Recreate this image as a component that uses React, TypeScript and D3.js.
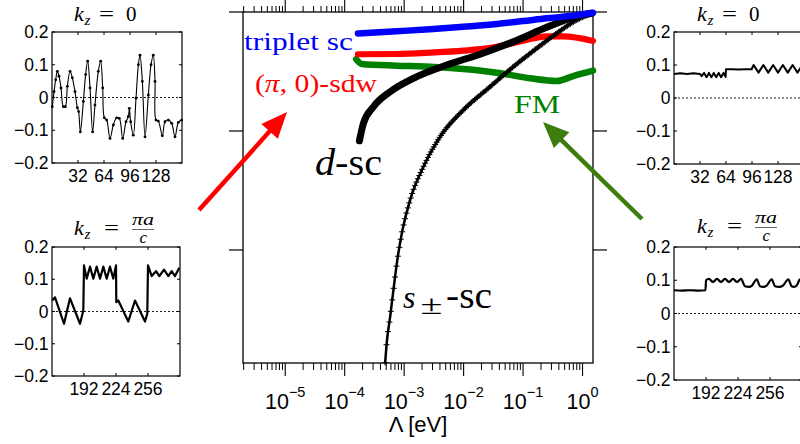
import React, { useEffect, useRef, useState } from "react";
import * as d3 from "d3";

// ---------------- main panel data ----------------
const lambdaMajorTicks = [1e-5, 1e-4, 1e-3, 1e-2, 1e-1, 1];
const lambdaTickExponents = ["−5", "−4", "−3", "−2", "−1", "0"];
const flowYTicks = [1, 2, 3];

const tripletLambda = [1.67e-4, 7.5e-4, 2.7e-3, 9.9e-3, 3.6e-2, 0.101, 0.25, 0.62, 1.5];
const tripletY = [2.82, 2.838, 2.855, 2.876, 2.899, 2.924, 2.947, 2.966, 2.994];

const sdwLambda = [1.67e-4, 7.5e-4, 2.7e-3, 9.9e-3, 3.6e-2, 0.101, 0.25, 0.475, 1.5];
const sdwY = [2.645, 2.647, 2.658, 2.675, 2.708, 2.759, 2.795, 2.795, 2.757];

const fmLambda = [1.56e-4, 1.95e-4, 7.5e-4, 2.7e-3, 9.9e-3, 3.6e-2, 0.131, 0.368, 0.7, 1.5];
const fmY = [2.603, 2.563, 2.549, 2.54, 2.521, 2.49, 2.443, 2.42, 2.462, 2.507];

const dscLambda = [1.77e-4, 2.07e-4, 3.05e-4, 5.82e-4, 1.43e-3, 5.22e-3, 1.89e-2, 6.87e-2, 0.25, 0.616, 1.43];
const dscY = [1.918, 2.065, 2.204, 2.33, 2.443, 2.555, 2.645, 2.75, 2.871, 2.947, 2.989];

const spmLambda = [4.8e-4, 5.12e-4, 5.82e-4, 6.61e-4, 7.54e-4, 9.15e-4, 1.26e-3, 2.11e-3, 4.03e-3, 9.9e-3, 2.79e-2, 6.87e-2, 0.17, 0.368, 0.8, 1.43];
const spmY = [0.053, 0.229, 0.439, 0.664, 0.888, 1.14, 1.42, 1.7, 1.952, 2.176, 2.372, 2.54, 2.695, 2.821, 2.933, 2.989];

// ---------------- inset data ----------------
const insetYTicks = [-0.2, -0.1, 0, 0.1, 0.2];
const topSiteTicks = [32, 64, 96, 128];
const bottomSiteTicks = [192, 224, 256];

const leftTopSites = [0.4, 2.5, 4.5, 6.6, 8.6, 11.1, 14, 16.4, 18.9, 22.2, 25, 28.3, 31.2, 32.8, 34.9, 38.6, 41.4, 43.9, 46.8, 50, 52.9, 57, 59.9, 62.4, 64.4, 67.3, 71.4, 75.5, 79.6, 82.9, 87, 91.1, 94, 95.2, 96.8, 100.1, 103.4, 106.3, 108.3, 111.2, 114.5, 118.6, 121.9, 124.7, 126.8, 128, 130.9, 135.8, 139.1, 143.2, 147.3, 151.4, 155.5, 159.6];
const leftTopValues = [-0.028, 0.018, 0.054, 0.08, 0.065, 0.029, -0.028, -0.028, 0.034, 0.08, 0.06, 0.018, -0.031, -0.043, -0.105, -0.012, 0.07, 0.111, 0.029, -0.105, -0.023, 0.08, 0.111, 0.029, -0.062, -0.069, -0.125, -0.084, -0.062, -0.064, -0.125, -0.074, -0.058, -0.033, -0.074, -0.115, -0.002, 0.1, 0.129, 0.049, -0.12, 0.008, 0.1, 0.129, 0.049, -0.069, -0.072, -0.117, -0.074, -0.069, -0.079, -0.12, -0.076, -0.069];

const leftBottomSites = [160.3, 163, 172, 178, 188, 191.3, 192, 194.7, 198, 201.3, 204.7, 208, 211.3, 214.7, 218, 221.3, 224, 224.3, 226.3, 236.3, 243, 253, 255.3, 256, 259.7, 264, 267.3, 272, 276.3, 279.7, 283, 287.3];
const leftBottomValues = [0.034, 0.044, -0.038, 0.041, -0.038, 0.003, 0.143, 0.102, 0.139, 0.102, 0.139, 0.102, 0.139, 0.102, 0.139, 0.102, 0.143, 0.029, 0.034, -0.031, 0.034, -0.031, -0.007, 0.143, 0.11, 0.125, 0.11, 0.13, 0.11, 0.125, 0.11, 0.136];

const rightTopSites = [0, 8, 16, 24, 32, 34, 37, 40, 43, 46, 49, 52, 55, 58, 61, 63.5, 64, 72, 80, 88, 95.5, 98, 104, 110, 116, 122, 128, 134, 140, 146, 152, 158, 160];
const rightTopValues = [0.073, 0.075, 0.073, 0.075, 0.073, 0.066, 0.076, 0.063, 0.076, 0.063, 0.076, 0.063, 0.076, 0.063, 0.076, 0.064, 0.087, 0.087, 0.086, 0.087, 0.087, 0.1, 0.077, 0.1, 0.077, 0.1, 0.077, 0.1, 0.077, 0.1, 0.077, 0.1, 0.095];

const rightBottomSites = [160, 168, 176, 184, 191.5, 192, 195, 199, 203, 207, 211, 215, 219, 223, 227, 231, 235, 238, 242.7, 246, 249, 252.7, 257.7, 261, 265, 269, 274.3, 277.7, 280, 282.7, 286, 288];
const rightBottomValues = [0.07, 0.069, 0.07, 0.069, 0.07, 0.1, 0.104, 0.095, 0.104, 0.095, 0.104, 0.095, 0.104, 0.095, 0.104, 0.082, 0.08, 0.084, 0.103, 0.082, 0.08, 0.084, 0.103, 0.082, 0.08, 0.084, 0.103, 0.082, 0.08, 0.084, 0.103, 0.1];

// ---------------- layout ----------------
const MAIN = { left: 243, right: 593, top: 12, bottom: 363 };
const SANS: React.CSSProperties = { fontFamily: "Liberation Sans, Arial, sans-serif" };
const SERIF: React.CSSProperties = { fontFamily: "Liberation Serif, Times New Roman, serif" };

type Box = { x0: number; y0: number; w: number; h: number };

function InsetTitle({ kind, tx, ty }: { kind: "zero" | "pi"; tx: number; ty: number }) {
  return (
    <g style={SERIF} fill="#000">
      <text x={tx} y={ty} fontSize={22} fontStyle="italic">k</text>
      <text x={tx + 10.5} y={ty + 4} fontSize={15} fontStyle="italic">z</text>
      <text x={tx + (kind === "zero" ? 25 : 30)} y={ty} fontSize={20} textLength={15} lengthAdjust="spacingAndGlyphs">=</text>
      {kind === "zero" ? (
        <text x={tx + 52} y={ty} fontSize={21}>0</text>
      ) : (
        <g>
          <text x={tx + 58} y={ty - 10} fontSize={17} fontStyle="italic" textLength={22} lengthAdjust="spacingAndGlyphs">πa</text>
          <line x1={tx + 58} x2={tx + 80} y1={ty - 5.5} y2={ty - 5.5} stroke="#000" strokeWidth={0.6} />
          <text x={tx + 65.5} y={ty + 7.5} fontSize={17} fontStyle="italic">c</text>
        </g>
      )}
    </g>
  );
}

function Inset(props: {
  box: Box;
  xDomain: [number, number];
  xTicks: number[];
  xs: number[];
  vs: number[];
  curve: d3.CurveFactory;
  sw: number;
  dots: boolean;
  title: "zero" | "pi";
  tx: number;
  ty: number;
}) {
  const { box, xDomain, xTicks, xs, vs, curve, sw, dots, title, tx, ty } = props;
  const sx = d3.scaleLinear().domain(xDomain).range([box.x0, box.x0 + box.w]);
  const sy = d3.scaleLinear().domain([-0.2, 0.2]).range([box.y0 + box.h, box.y0]);
  const pts = xs.map((v, i) => [v, vs[i]] as [number, number]);
  const d = d3.line<[number, number]>().x((p) => sx(p[0])).y((p) => sy(p[1])).curve(curve)(pts) || "";
  const fmt = (v: number) => (Math.abs(v) < 1e-9 ? "0" : (v < 0 ? "−" : "") + Math.abs(v).toFixed(1));
  const bottom = box.y0 + box.h;
  const right = box.x0 + box.w;
  return (
    <g>
      <rect x={box.x0} y={box.y0} width={box.w} height={box.h} fill="#fff" />
      <line x1={box.x0} x2={right} y1={sy(0)} y2={sy(0)} stroke="#000" strokeWidth={0.9} strokeDasharray="2,2" />
      <path d={d} fill="none" stroke="#000" strokeWidth={sw} strokeLinejoin="round" />
      {dots && pts.map((p, i) => <circle key={i} cx={sx(p[0])} cy={sy(p[1])} r={1.4} fill="#000" />)}
      <rect x={box.x0} y={box.y0} width={box.w} height={box.h} fill="none" stroke="#000" strokeWidth={1.2} />
      {insetYTicks.map((v) => (
        <g key={v}>
          <line x1={box.x0} x2={box.x0 + 3} y1={sy(v)} y2={sy(v)} stroke="#000" />
          <line x1={right} x2={right - 3} y1={sy(v)} y2={sy(v)} stroke="#000" />
          <text x={box.x0 - 3.5} y={sy(v) + 6.2} textAnchor="end" style={SANS} fontSize={17.5}>
            {fmt(v)}
          </text>
        </g>
      ))}
      {xTicks.map((v) => (
        <g key={v}>
          <line x1={sx(v)} x2={sx(v)} y1={bottom} y2={bottom - 3} stroke="#000" />
          <line x1={sx(v)} x2={sx(v)} y1={box.y0} y2={box.y0 + 3} stroke="#000" />
          <text x={sx(v)} y={bottom + 18.5} textAnchor="middle" style={SANS} fontSize={17.5}>
            {v}
          </text>
        </g>
      ))}
      <InsetTitle kind={title} tx={tx} ty={ty} />
    </g>
  );
}

function Arrow({ from, to, color }: { from: [number, number]; to: [number, number]; color: string }) {
  const dx = to[0] - from[0];
  const dy = to[1] - from[1];
  const len = Math.hypot(dx, dy);
  const ux = dx / len;
  const uy = dy / len;
  const headL = 26;
  const headW = 11;
  const bx = to[0] - ux * headL;
  const by = to[1] - uy * headL;
  const pts = [
    [to[0], to[1]],
    [bx - uy * headW, by + ux * headW],
    [bx + uy * headW, by - ux * headW],
  ];
  return (
    <g>
      <line x1={from[0]} y1={from[1]} x2={bx + ux * 3} y2={by + uy * 3} stroke={color} strokeWidth={4.5} />
      <polygon points={pts.map((p) => p.join(",")).join(" ")} fill={color} />
    </g>
  );
}

export default function App() {
  const x = d3.scaleLog().domain([1.95e-6, 1.5]).range([MAIN.left, MAIN.right]);
  const y = d3.scaleLinear().domain([0.05, 3]).range([MAIN.bottom, MAIN.top]);
  const line = d3
    .line<[number, number]>()
    .x((p) => x(p[0]))
    .y((p) => y(p[1]))
    .curve(d3.curveMonotoneX);
  const zip = (a: number[], b: number[]) => a.map((v, i) => [v, b[i]] as [number, number]);

  const minorTicks: number[] = [];
  for (let e = -6; e <= 0; e++) {
    for (let k = 2; k <= 9; k++) {
      const v = k * Math.pow(10, e);
      if (v >= 1.95e-6 && v <= 1.5) minorTicks.push(v);
    }
  }

  const spmRef = useRef<SVGPathElement>(null);
  const [marks, setMarks] = useState<[number, number][]>([]);
  useEffect(() => {
    const p = spmRef.current;
    if (!p) return;
    const L = p.getTotalLength();
    const out: [number, number][] = [];
    let nextX = -Infinity;
    const step = 1.4;
    for (let l = 0; l <= L; l += 0.2) {
      const pt = p.getPointAtLength(l);
      if (pt.x >= nextX) {
        out.push([pt.x, pt.y]);
        nextX = pt.x + step;
      }
    }
    setMarks(out);
  }, []);

  return (
    <svg
      width={800}
      height={444}
      viewBox="0 0 800 444"
      style={{ position: "absolute", left: 0, top: 0, background: "#fff", display: "block" }}
    >
      <rect x={0} y={0} width={800} height={444} fill="#fff" />

      {/* main axes box */}
      <rect
        x={MAIN.left}
        y={MAIN.top}
        width={MAIN.right - MAIN.left}
        height={MAIN.bottom - MAIN.top}
        fill="none"
        stroke="#000"
        strokeWidth={1.3}
      />
      {minorTicks.map((v, i) => (
        <g key={"m" + i}>
          <line x1={x(v)} x2={x(v)} y1={MAIN.bottom} y2={MAIN.bottom + 7} stroke="#000" strokeWidth={1} />
          <line x1={x(v)} x2={x(v)} y1={MAIN.top} y2={MAIN.top - 6} stroke="#000" strokeWidth={1} />
        </g>
      ))}
      {lambdaMajorTicks.map((v, i) => (
        <g key={"M" + i}>
          <line x1={x(v)} x2={x(v)} y1={MAIN.bottom} y2={MAIN.bottom + 13} stroke="#000" strokeWidth={1.1} />
          <line x1={x(v)} x2={x(v)} y1={MAIN.top} y2={MAIN.top - 12} stroke="#000" strokeWidth={1.1} />
          <text x={x(v)} y={409} textAnchor="middle" style={SANS} fontSize={21.5}>
            10
            <tspan dy={-12} fontSize={14.5}>
              {lambdaTickExponents[i]}
            </tspan>
          </text>
        </g>
      ))}
      {flowYTicks.map((v) => (
        <g key={"y" + v}>
          <line x1={MAIN.left - 14} x2={MAIN.left} y1={y(v)} y2={y(v)} stroke="#000" strokeWidth={1.2} />
          <line x1={MAIN.right} x2={MAIN.right + 14} y1={y(v)} y2={y(v)} stroke="#000" strokeWidth={1.2} />
        </g>
      ))}
      <text x={(MAIN.left + MAIN.right) / 2} y={432} textAnchor="middle" style={SANS} fontSize={22}>
        Λ [eV]
      </text>

      {/* flows */}
      <path d={line(zip(fmLambda, fmY)) || ""} fill="none" stroke="#008000" strokeWidth={6.5} strokeLinecap="round" />
      <path d={line(zip(sdwLambda, sdwY)) || ""} fill="none" stroke="#ff0000" strokeWidth={6.2} strokeLinecap="round" />
      <path ref={spmRef} d={line(zip(spmLambda, spmY)) || ""} fill="none" stroke="#000" strokeWidth={2.5} strokeLinecap="round" />
      <g stroke="#000" strokeWidth={1}>
        {marks.map((m, i) => (
          <g key={i}>
            <line x1={m[0] - 3} x2={m[0] + 3} y1={m[1]} y2={m[1]} />
            <line x1={m[0]} x2={m[0]} y1={m[1] - 3} y2={m[1] + 3} />
          </g>
        ))}
      </g>
      <path d={line(zip(dscLambda, dscY)) || ""} fill="none" stroke="#000" strokeWidth={7} strokeLinecap="round" />
      <path d={line(zip(tripletLambda, tripletY)) || ""} fill="none" stroke="#0000ff" strokeWidth={6.5} strokeLinecap="round" />

      {/* labels */}
      <text x={244} y={50} style={SERIF} fontSize={25} fill="#0000ff" textLength={109} lengthAdjust="spacingAndGlyphs">
        triplet sc
      </text>
      <text x={255} y={91.5} style={SERIF} fontSize={25} fill="#ff0000" textLength={122} lengthAdjust="spacingAndGlyphs">
        (<tspan fontStyle="italic">π</tspan>, 0)-sdw
      </text>
      <text x={514} y={113} style={SERIF} fontSize={25} fill="#008000" textLength={46} lengthAdjust="spacingAndGlyphs">
        FM
      </text>
      <text x={315} y={175} style={SERIF} fontSize={38} fill="#000" textLength={67} lengthAdjust="spacingAndGlyphs">
        <tspan fontStyle="italic">d</tspan>-sc
      </text>
      <text x={403} y={308} style={SERIF} fontSize={32} fontStyle="italic" fill="#000">
        s
      </text>
      <text x={420.5} y={314} style={SERIF} fontSize={28} fill="#000" textLength={22} lengthAdjust="spacingAndGlyphs">
        ±
      </text>
      <text x={446} y={308} style={SERIF} fontSize={38} fill="#000" textLength={46} lengthAdjust="spacingAndGlyphs">
        -sc
      </text>

      {/* arrows */}
      <Arrow from={[199, 210]} to={[287, 112]} color="#ff0000" />
      <Arrow from={[642, 219]} to={[543, 122]} color="#3c7d0e" />

      {/* insets */}
      <Inset
        box={{ x0: 52, y0: 32, w: 130, h: 131 }}
        xDomain={[0, 160]}
        xTicks={topSiteTicks}
        xs={leftTopSites}
        vs={leftTopValues}
        curve={d3.curveCatmullRom}
        sw={1.1}
        dots={true}
        title="zero"
        tx={74}
        ty={21}
      />
      <Inset
        box={{ x0: 52, y0: 247, w: 128, h: 129 }}
        xDomain={[160, 288]}
        xTicks={bottomSiteTicks}
        xs={leftBottomSites}
        vs={leftBottomValues}
        curve={d3.curveLinear}
        sw={2.2}
        dots={false}
        title="pi"
        tx={74}
        ty={235}
      />
      <Inset
        box={{ x0: 674, y0: 32, w: 130, h: 132 }}
        xDomain={[0, 160]}
        xTicks={topSiteTicks}
        xs={rightTopSites}
        vs={rightTopValues}
        curve={d3.curveLinear}
        sw={2}
        dots={false}
        title="zero"
        tx={697}
        ty={21}
      />
      <Inset
        box={{ x0: 674, y0: 247, w: 128, h: 133 }}
        xDomain={[160, 288]}
        xTicks={bottomSiteTicks}
        xs={rightBottomSites}
        vs={rightBottomValues}
        curve={d3.curveMonotoneX}
        sw={2.2}
        dots={false}
        title="pi"
        tx={697}
        ty={233}
      />
    </svg>
  );
}
